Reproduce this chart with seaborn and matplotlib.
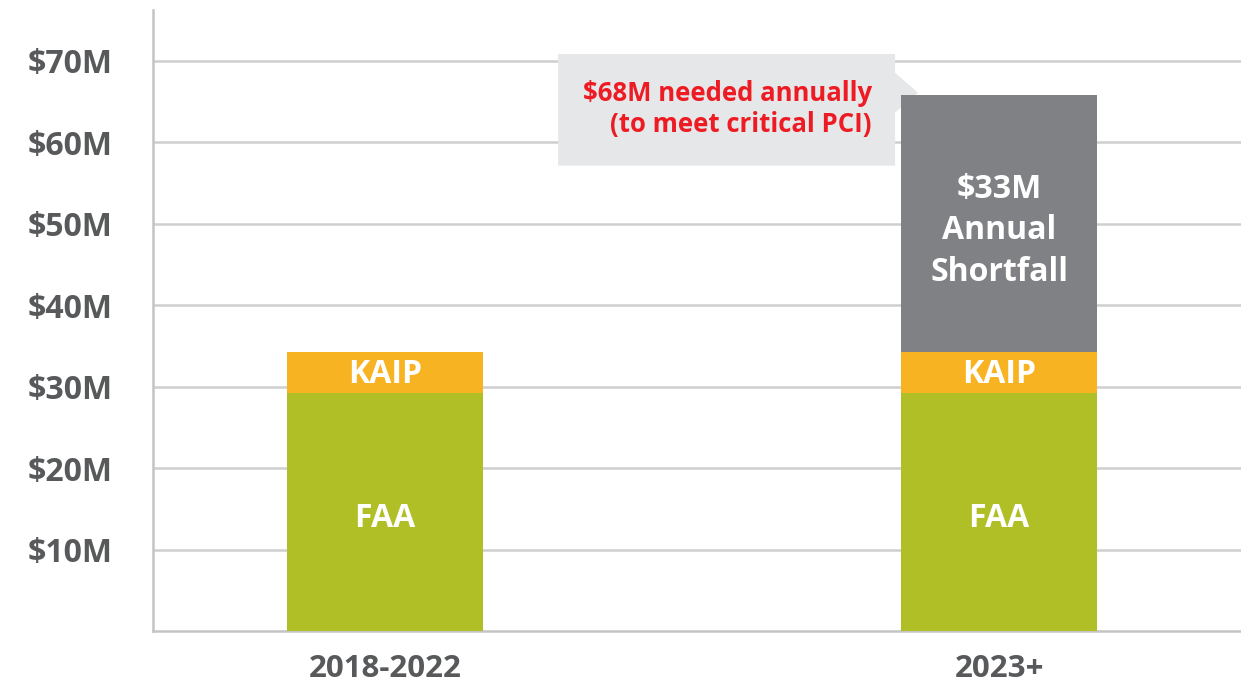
import matplotlib
matplotlib.use("Agg")
import matplotlib.pyplot as plt
import seaborn as sns
import pandas as pd
from matplotlib.patches import Polygon

# ---- data ----
periods = ["2018-2022", "2023+"]
faa = [29.2, 29.2]
kaip = [5.0, 5.0]
shortfall = [0.0, 31.6]
segment_labels = ["FAA", "KAIP", "$33M\nAnnual\nShortfall"]
y_ticks = [10, 20, 30, 40, 50, 60, 70]
y_ticklabels = ["$10M", "$20M", "$30M", "$40M", "$50M", "$60M", "$70M"]
callout_text = "$68M needed annually\n(to meet critical PCI)"

# ---- styles ----
GREEN = "#afbf25"
ORANGE = "#f8b323"
GREY = "#808184"
BOX = "#e6e7e8"
RED = "#ed1c24"
TXT = "#58595b"
GRID = "#cfcfcf"
FONT = ["Open Sans", "DejaVu Sans"]

sns.set_theme(style="white")
plt.rcParams["font.family"] = FONT

df = pd.DataFrame({"period": periods, "faa": faa, "kaip": kaip, "short": shortfall})
df["lvl1"] = df["faa"]
df["lvl2"] = df["faa"] + df["kaip"]
df["lvl3"] = df["lvl2"] + df["short"]

fig = plt.figure(figsize=(12.41, 6.88), dpi=100)
ax = fig.add_axes([153 / 1241, 1 - 631 / 688, 1 - 153 / 1241, (631 - 10) / 688])

W = 0.32
for col, color in [("lvl3", GREY), ("lvl2", ORANGE), ("lvl1", GREEN)]:
    sns.barplot(data=df, x="period", y=col, order=periods, color=color,
                width=W, saturation=1, linewidth=0, ax=ax, zorder=3)

ax.set_xlim(-0.378, 1.394)
ax.set_ylim(0, 76.2)
ax.set_xlabel("")
ax.set_ylabel("")

ax.set_yticks(y_ticks)
ax.set_yticklabels(y_ticklabels)
ax.tick_params(axis="y", length=0, pad=29, labelsize=23, labelcolor=TXT)
ax.tick_params(axis="x", length=0, pad=16.5, labelsize=22.5, labelcolor=TXT)
for lab in ax.get_xticklabels() + ax.get_yticklabels():
    lab.set_fontweight("bold")

ax.grid(axis="y", color=GRID, linewidth=1.8, zorder=0)
ax.set_axisbelow(True)
for s in ["top", "right"]:
    ax.spines[s].set_visible(False)
for s in ["left", "bottom"]:
    ax.spines[s].set_color("#c4c4c4")
    ax.spines[s].set_linewidth(1.8)

# segment labels
for i in range(len(periods)):
    ax.text(i, faa[i] / 2 - 0.85, segment_labels[0], ha="center", va="center",
            color="white", fontsize=23, fontweight="bold", zorder=5)
    ax.text(i, faa[i] + kaip[i] / 2 - 0.25, segment_labels[1], ha="center", va="center",
            color="white", fontsize=23, fontweight="bold", zorder=5)
    if shortfall[i] > 0:
        ax.text(i, faa[i] + kaip[i] + shortfall[i] / 2 - 0.9, segment_labels[2],
                ha="center", va="center", color="white", fontsize=23,
                fontweight="bold", linespacing=1.35, zorder=5)

# callout box with pointer toward the 2023+ bar top
top = faa[1] + kaip[1] + shortfall[1]
bx0, bx1 = 0.2818, 0.8306
by0, by1 = top - 8.7, top + 5.0
tip_x = 1 - W / 2 + 0.028
poly = Polygon([(bx0, by0), (bx0, by1), (bx1, by1), (bx1, top + 2.7),
                (tip_x, top + 0.25), (bx1, top - 2.2), (bx1, by0)],
               closed=True, facecolor=BOX, edgecolor="none", zorder=2)
ax.add_patch(poly)
ax.text(0.793, top - 1.75, callout_text, ha="right", va="center", color=RED,
        fontsize=18.5, fontweight="bold", linespacing=1.2, zorder=5)

fig.savefig("out.png", dpi=100)
